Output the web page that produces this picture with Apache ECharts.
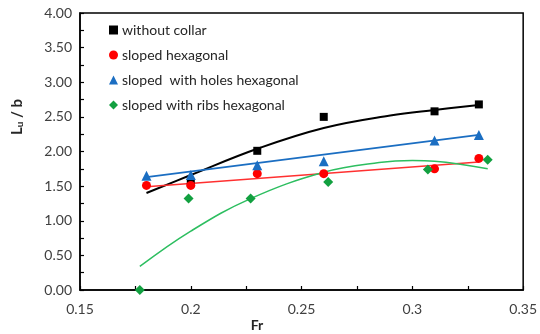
<!DOCTYPE html>
<html>
<head>
<meta charset="utf-8">
<script src="https://cdn.jsdelivr.net/npm/echarts@6/dist/echarts.min.js"></script>
<style>html,body{margin:0;padding:0;background:#fff}#c{width:540px;height:334px}</style>
</head>
<body>
<div id="c"></div>
<script>
// Data
const seriesNames = ['without collar', 'sloped hexagonal', 'sloped  with holes hexagonal', 'sloped with ribs hexagonal'];
const withoutCollar = [[0.20, 1.55], [0.23, 2.01], [0.26, 2.50], [0.31, 2.58], [0.33, 2.68]];
const slopedHex = [[0.18, 1.51], [0.20, 1.51], [0.23, 1.68], [0.26, 1.68], [0.31, 1.75], [0.33, 1.90]];
const holesHex = [[0.18, 1.65], [0.20, 1.66], [0.23, 1.80], [0.26, 1.86], [0.31, 2.16], [0.33, 2.24]];
const ribsHex = [[0.177, 0.00], [0.199, 1.32], [0.227, 1.32], [0.262, 1.56], [0.307, 1.74], [0.334, 1.88]];
// Trend lines
const trendWithout = [[0.18, 1.40], [0.20, 1.66], [0.23, 2.04], [0.26, 2.34], [0.29, 2.52], [0.31, 2.60], [0.33, 2.67]];
const trendSloped = [[0.18, 1.49], [0.33, 1.85]];
const trendHoles = [[0.18, 1.63], [0.33, 2.24]];
const trendRibs = [[0.177, 0.34], [0.20, 0.85], [0.227, 1.32], [0.26, 1.70], [0.285, 1.84], [0.30, 1.87], [0.31, 1.86], [0.334, 1.75]];
const xTicks = [0.15, 0.2, 0.25, 0.3, 0.35];
const yTicks = [0, 0.5, 1, 1.5, 2, 2.5, 3, 3.5, 4];

const colors = ['#000000', '#FF0000', '#1B6EC2', '#12A040'];
const lineColors = ['#000000', '#FF3030', '#1B6EC2', '#2DBE60'];
const symbols = ['rect', 'circle', 'triangle', 'diamond'];
const symSizes = [8, 9, 10, 10];
const pts = [withoutCollar, slopedHex, holesHex, ribsHex];
const trends = [trendWithout, trendSloped, trendHoles, trendRibs];
const lineWidths = [2, 1.5, 2, 1.5];

const font = 'Lato, "Open Sans", sans-serif';
const chart = echarts.init(document.getElementById('c'));
const series = [];
trends.forEach((t, i) => {
  series.push({ type: 'line', data: t, smooth: t.length > 2 ? 0.4 : false, showSymbol: false, symbol: 'none',
    lineStyle: { color: lineColors[i], width: lineWidths[i] }, z: 2, silent: true });
});
pts.forEach((p, i) => {
  series.push({ name: seriesNames[i], type: 'scatter', data: p, symbol: symbols[i], symbolSize: symSizes[i],
    itemStyle: { color: colors[i], opacity: 1 }, z: 3 + i });
});
chart.setOption({
  animation: false,
  grid: { left: 80, right: 15, top: 13, bottom: 44, show: true, borderColor: '#000', borderWidth: 1.5, backgroundColor: 'transparent' },
  legend: {
    data: seriesNames.map((n, i) => ({ name: n, icon: symbols[i] })),
    orient: 'vertical', left: 104, top: 18, itemGap: 11, itemWidth: 9, itemHeight: 9,
    textStyle: { fontFamily: font, fontSize: 14, color: '#262626', padding: [0, 0, 0, -1] }
  },
  xAxis: {
    type: 'value', min: xTicks[0], max: xTicks[xTicks.length - 1], interval: 0.05,
    axisLine: { lineStyle: { color: '#000', width: 1.5 } },
    axisTick: { inside: true, length: 4, lineStyle: { color: '#000', width: 1.2 } },
    minorTick: { show: true, splitNumber: 2, length: 4, lineStyle: { color: '#000', width: 1.2 } },
    splitLine: { show: false },
    axisLabel: { fontFamily: font, fontSize: 14, color: '#404040', margin: 12,
      formatter: v => String(Math.round(v * 100) / 100) }
  },
  yAxis: {
    type: 'value', min: yTicks[0], max: yTicks[yTicks.length - 1], interval: 0.5,
    axisLine: { lineStyle: { color: '#000', width: 1.5 } },
    axisTick: { inside: true, length: 4, lineStyle: { color: '#000', width: 1.2 } },
    minorTick: { show: true, splitNumber: 2, length: 4, lineStyle: { color: '#000', width: 1.2 } },
    splitLine: { show: false },
    axisLabel: { fontFamily: font, fontSize: 14, color: '#404040', margin: 8, formatter: v => v.toFixed(2) }
  },
  graphic: [
    { type: 'text', x: 17, y: 117, rotation: Math.PI / 2, style: {
        text: '{m|L}{s|u}{m| / b}', align: 'center', verticalAlign: 'middle',
        rich: { m: { fontFamily: font, fontSize: 15, fontWeight: 'bold', fill: '#262626' },
                s: { fontFamily: font, fontSize: 10, fontWeight: 'bold', fill: '#262626', verticalAlign: 'bottom', padding: [6, 0, 0, 0] } } } },
    { type: 'text', x: 257, y: 325, style: { text: 'Fr', align: 'center', verticalAlign: 'middle',
        fontFamily: font, fontSize: 14, fontWeight: 'bold', fill: '#262626' } }
  ],
  series: series
});
</script>
</body>
</html>
